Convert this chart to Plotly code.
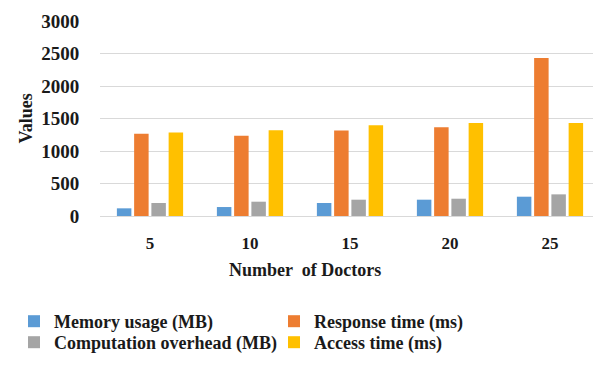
import plotly.graph_objects as go

categories = ["5", "10", "15", "20", "25"]
memory_usage = [118, 138, 200, 251, 297]
response_time = [1265, 1234, 1316, 1367, 2432]
computation_overhead = [200, 220, 251, 266, 333]
access_time = [1285, 1321, 1398, 1429, 1429]

series = [
    ("Memory usage (MB)", memory_usage, "#5B9BD5", "legend"),
    ("Response time (ms)", response_time, "#ED7D31", "legend2"),
    ("Computation overhead (MB)", computation_overhead, "#A5A5A5", "legend3"),
    ("Access time (ms)", access_time, "#FFC000", "legend4"),
]

FONT = "Liberation Serif"
TXT = "#1a1a1a"
W, H = 593, 357

fig = go.Figure()
for name, vals, col, lg in series:
    fig.add_trace(go.Bar(x=categories, y=vals, name=name, marker_color=col,
                         marker_line_width=0, legend=lg))

def leg(x, y):
    return dict(
        x=x, xref="container", y=y, yref="container",
        yanchor="top", xanchor="left", bgcolor="rgba(0,0,0,0)",
        font=dict(family=FONT, size=18, color=TXT, weight="bold"),
        itemwidth=30,
    )

col1, col2 = 6 / W, 266 / W
row1, row2 = 1 - 295 / H, 1 - 316 / H

fig.update_layout(
    width=W, height=H,
    margin=dict(l=92, r=1, t=13, b=149, autoexpand=False),
    paper_bgcolor="white", plot_bgcolor="white",
    barmode="group", bargap=0.31, bargroupgap=0.16,
    font=dict(family=FONT, color=TXT, weight="bold"),
    showlegend=True,
    legend=leg(col1, row1),
    legend2=leg(col2, row1),
    legend3=leg(col1, row2),
    legend4=leg(col2, row2),
    annotations=[
        dict(
            text="Number  of Doctors", xref="paper", yref="paper",
            x=0.41, y=-0.277, showarrow=False, xanchor="center", yanchor="middle",
            font=dict(family=FONT, size=18, color=TXT, weight="bold"),
        ),
        dict(
            text="Values", xref="paper", yref="paper", textangle=-90,
            x=-0.15, y=0.5, showarrow=False, xanchor="center", yanchor="middle",
            font=dict(family=FONT, size=18, color=TXT, weight="bold"),
        ),
    ],
)
fig.update_xaxes(
    showgrid=False, showline=True, linecolor="#D9D9D9", linewidth=1,
    ticks="outside", ticklen=12, tickcolor="rgba(0,0,0,0)",
    tickfont=dict(family=FONT, size=17, color=TXT, weight="bold"),
)
fig.update_yaxes(
    range=[0, 3000], dtick=500, showgrid=True, gridcolor="#D9D9D9", gridwidth=1,
    zeroline=False, showline=False,
    ticks="outside", ticklen=16, tickcolor="rgba(0,0,0,0)",
    tickfont=dict(family=FONT, size=19, color=TXT, weight="bold"),
)

fig.write_html("out.html")
